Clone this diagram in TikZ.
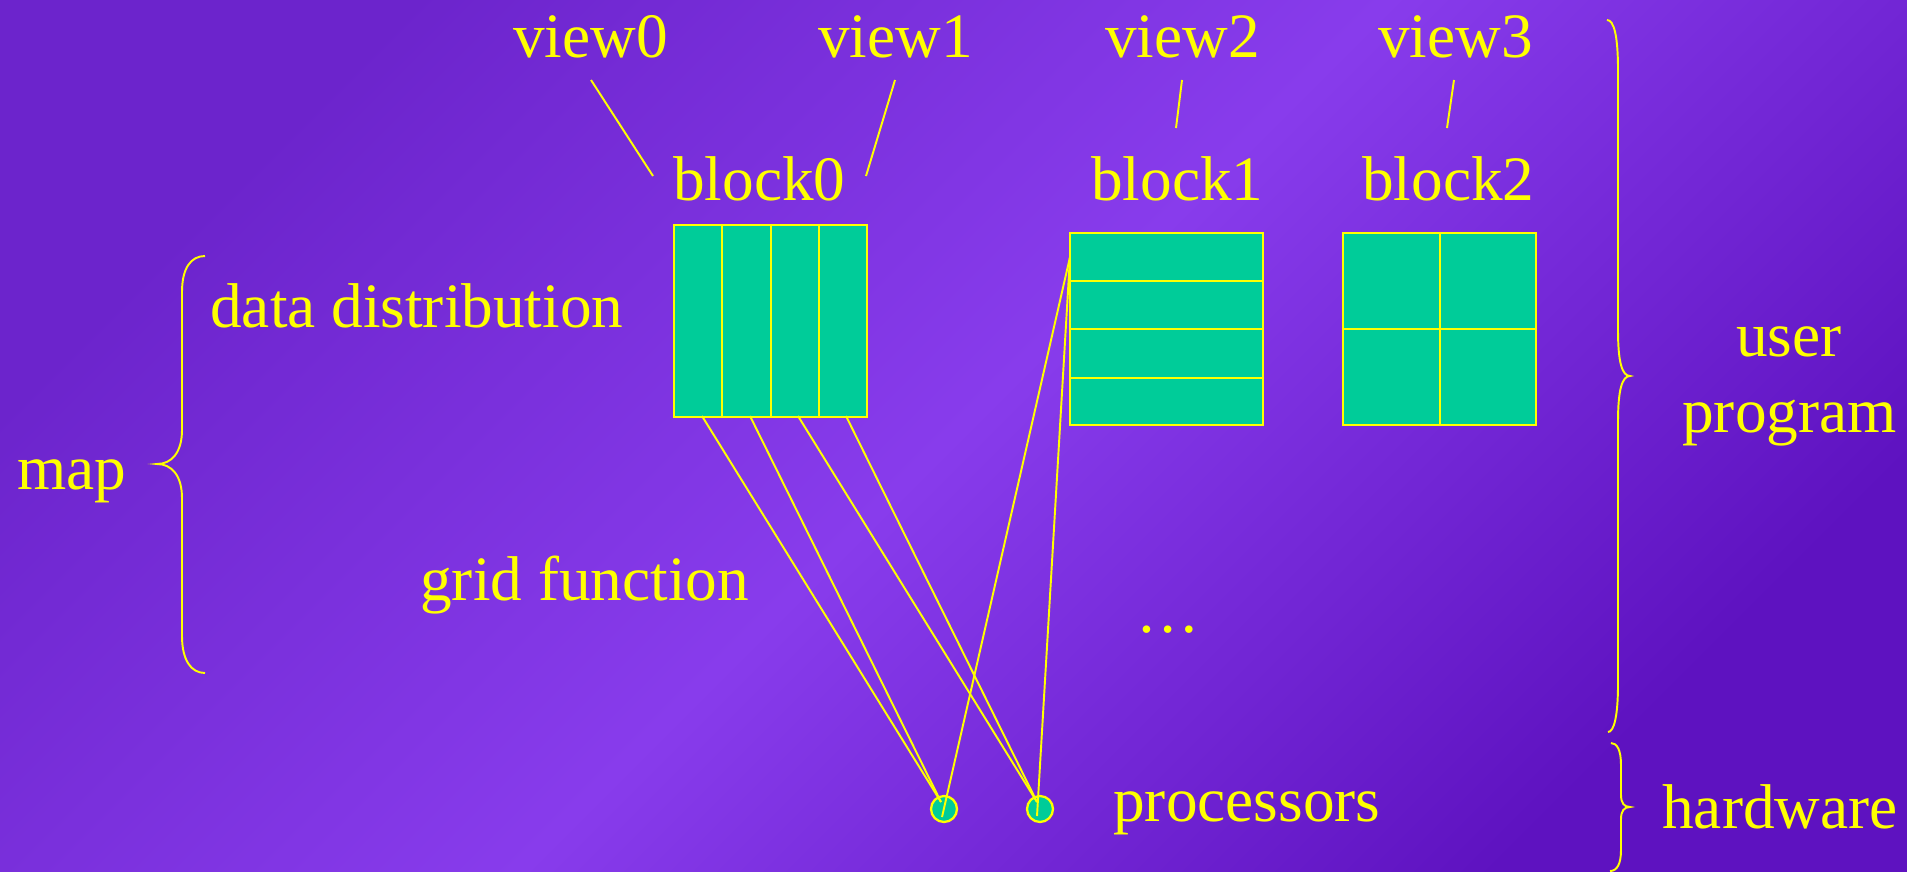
\documentclass[tikz,border=0pt]{standalone}
\usepackage{fontspec}
\setmainfont{Liberation Serif}
\usetikzlibrary{calc}
\definecolor{yel}{HTML}{FFFF00}
\definecolor{grn}{HTML}{00CC99}
\definecolor{bgA}{HTML}{6C24CC}
\definecolor{bgB}{HTML}{883CEC}
\definecolor{bgC}{HTML}{5E12C0}
\begin{document}
\begin{tikzpicture}[x=0.02cm,y=-0.02cm,
  lbl/.style={text=yel, font=\fontsize{36}{43}\selectfont, inner sep=0pt, anchor=base west},
  ln/.style={draw=yel, line width=1.1pt},
  blk/.style={draw=yel, fill=grn, line width=1.3pt, inner sep=0pt, anchor=north west},
  proc/.style={circle, draw=yel, fill=grn, line width=1.3pt, minimum size=0.52cm, inner sep=0pt}]
\useasboundingbox (0,0) rectangle (1907,872);
\shade[top color=bgA, bottom color=bgC, middle color=bgB, shading angle=45] (0,0) rectangle (1907,872);

% blocks
\node[blk, minimum width=3.86cm, minimum height=3.84cm] (b0) at (673,224) {};
\node[blk, minimum width=3.86cm, minimum height=3.84cm] (b1) at (1069,232) {};
\node[blk, minimum width=3.86cm, minimum height=3.84cm] (b2) at (1342,232) {};
\foreach \f in {0.25,0.5,0.75}{
  \draw[ln] ($(b0.north west)!\f!(b0.north east)$) -- ($(b0.south west)!\f!(b0.south east)$);
  \draw[ln] ($(b1.north west)!\f!(b1.south west)$) -- ($(b1.north east)!\f!(b1.south east)$);
}
\draw[ln] (b2.north) -- (b2.south);
\draw[ln] (b2.west) -- (b2.east);

% processors
\node[proc] (p0) at (944,809) {};
\node[proc] (p1) at (1040,809) {};

% labels
\node[lbl] (v0) at (513,57) {view0};
\node[lbl] (v1) at (818,57) {view1};
\node[lbl] (v2) at (1105,57) {view2};
\node[lbl] (v3) at (1378,57) {view3};
\node[lbl] (t0) at (673,200) {block0};
\node[lbl] (t1) at (1091,200) {block1};
\node[lbl] (t2) at (1362,200) {block2};
\node[lbl] (dd) at (210,327) {data distribution};
\node[lbl] (mp) at (17,489) {map};
\node[lbl] (gf) at (420,600) {grid function};
\node[lbl] (dt) at (1136,632) {…};
\node[lbl] (pr) at (1113,821) {processors};
\node[lbl] (hw) at (1662,828) {hardware};
\node[lbl] (us) at (1736,356) {user};
\node[lbl] (pg) at (1682,432) {program};

% view leader lines
\coordinate (v0a) at (591,80);  \coordinate (v0b) at (653,176);
\coordinate (v1a) at (895,80);  \coordinate (v1b) at (866,176);
\coordinate (v2a) at (1182,80); \coordinate (v2b) at (1176,128);
\coordinate (v3a) at (1454,80); \coordinate (v3b) at (1447,128);
\draw[ln] (v0a) -- (v0b);
\draw[ln] (v1a) -- (v1b);
\draw[ln] (v2a) -- (v2b);
\draw[ln] (v3a) -- (v3b);

% mapping lines
\coordinate (s0) at (702,416);
\coordinate (s1) at (750,416);
\coordinate (s2) at (798,416);
\coordinate (s3) at (846,416);
\coordinate (s4) at (1070,257);
\coordinate (p0t) at ($(p0.center)+(-3,-7)$);
\coordinate (p1t) at ($(p1.center)+(-3,-7)$);
\coordinate (p0b) at ($(p0.center)+(-2,8)$);
\coordinate (p1b) at ($(p1.center)+(-3,7)$);
\draw[ln] (s0) -- (p0t);
\draw[ln] (s1) -- (p0t);
\draw[ln] (s2) -- (p1t);
\draw[ln] (s3) -- (p1t);
\draw[ln] (s4) -- (p0b);
\draw[ln] (s4) -- (p1b);

% braces
\draw[ln] (205,256) .. controls (191,256) and (182,268) .. (182,292) -- (182,430)
  .. controls (182,452) and (172,464) .. (157,464)
  .. controls (172,464) and (182,476) .. (182,498) -- (182,636)
  .. controls (182,660) and (191,673) .. (205,673);
\draw[ln] (1607,20) .. controls (1614,20) and (1618,36) .. (1618,70) -- (1618,330)
  .. controls (1618,362) and (1622,376) .. (1630,376)
  .. controls (1622,376) and (1618,390) .. (1618,422) -- (1618,684)
  .. controls (1618,716) and (1614,732) .. (1608,732);
\draw[ln] (1611,743) .. controls (1617,743) and (1621,750) .. (1621,765) -- (1621,795)
  .. controls (1621,803) and (1624,807) .. (1630,807)
  .. controls (1624,807) and (1621,811) .. (1621,819) -- (1621,850)
  .. controls (1621,864) and (1617,871) .. (1610,871);
\end{tikzpicture}
\end{document}
